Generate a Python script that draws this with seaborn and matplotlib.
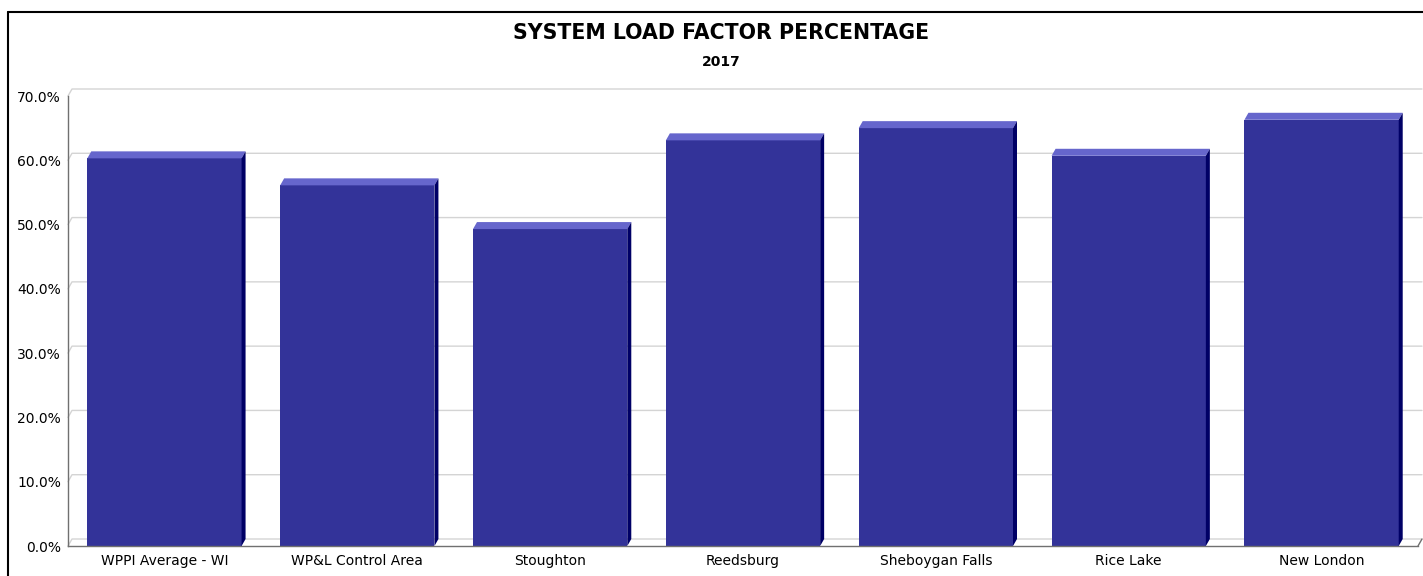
import matplotlib
matplotlib.use("Agg")
import matplotlib.pyplot as plt
import matplotlib.transforms as mtransforms
from matplotlib.lines import Line2D
from matplotlib.patches import Polygon
import pandas as pd
import seaborn as sns

# values
utilities = ["WPPI Average - WI", "WP&L Control Area", "Stoughton", "Reedsburg",
             "Sheboygan Falls", "Rice Lake", "New London"]
load_factor = [60.3, 56.1, 49.3, 63.1, 65.0, 60.7, 66.3]
y_ticks = [0, 10, 20, 30, 40, 50, 60, 70]
y_tick_labels = [f"{v:.1f}%" for v in y_ticks]

front_color = "#333399"
top_color = "#6666cc"
side_color = "#000066"
depth_x, depth_y = 4, 7  # pixel depth of the fake 3d look

sns.set_style("white")
plt.rcParams["font.family"] = ["DejaVu Sans"]

W, H = 1423, 576
fig = plt.figure(figsize=(W / 100, H / 100), dpi=100)
ax = fig.add_axes([68 / W, 30 / H, 1350 / W, 450 / H])

df = pd.DataFrame({"utility": utilities, "load_factor": load_factor})
sns.barplot(data=df, x="utility", y="load_factor", color=front_color, saturation=1,
            width=0.8, ax=ax, zorder=3, edgecolor="none", linewidth=0)

ax.set_xlim(-0.5, len(utilities) - 0.5)
ax.set_ylim(0, 70)
ax.set_yticks(y_ticks)
ax.set_yticklabels(y_tick_labels)
ax.set_xlabel("")
ax.set_ylabel("")
ax.tick_params(axis="both", length=0, labelsize=10, colors="black")
ax.tick_params(axis="y", pad=5)
ax.tick_params(axis="x", pad=6)
for side in ["top", "right"]:
    ax.spines[side].set_visible(False)
for side in ["left", "bottom"]:
    ax.spines[side].set_color("#707070")
    ax.spines[side].set_linewidth(1.0)
    ax.spines[side].set_zorder(4)

ident = mtransforms.IdentityTransform()
to_px = ax.transData.transform
x0, x1 = ax.get_xlim()

# back-wall gridlines with the small perspective step at the axis
for v in y_ticks:
    fx, fy = to_px((x0, v))
    ex, _ = to_px((x1, v))
    ax.add_line(Line2D([fx, fx + depth_x, ex + depth_x], [fy, fy + depth_y, fy + depth_y],
                       transform=ident, color="#d4d4d4", lw=1.0, zorder=1, clip_on=False))
# right end of the floor
ex, ey = to_px((x1, 0))
ax.add_line(Line2D([ex, ex + depth_x], [ey, ey + depth_y], transform=ident,
                   color="#707070", lw=1.0, zorder=4, clip_on=False))

# top and side faces of each bar
for p in ax.patches:
    bx, by = p.get_x(), p.get_y()
    bw, bh = p.get_width(), p.get_height()
    lx, ty = to_px((bx, by + bh))
    rx, base = to_px((bx + bw, by))
    top = Polygon([[lx, ty], [rx, ty], [rx + depth_x, ty + depth_y], [lx + depth_x, ty + depth_y]],
                  closed=True, transform=ident, facecolor=top_color, edgecolor="none",
                  zorder=3, clip_on=False)
    side = Polygon([[rx, base], [rx + depth_x, base + depth_y], [rx + depth_x, ty + depth_y], [rx, ty]],
                   closed=True, transform=ident, facecolor=side_color, edgecolor="none",
                   zorder=3, clip_on=False)
    ax.add_patch(top)
    ax.add_patch(side)

fig.text(0.507, 1 - 33 / H, "SYSTEM LOAD FACTOR PERCENTAGE", ha="center", va="center",
         fontsize=14.8, fontweight="bold", color="black")
fig.text(0.507, 1 - 62 / H, "2017", ha="center", va="center", fontsize=10,
         fontweight="bold", color="black")

# outer frame (left and top edges)
fig.add_artist(Line2D([8 / W, 8 / W], [0, 1 - 12 / H], transform=fig.transFigure,
                      color="black", lw=1.5))
fig.add_artist(Line2D([8 / W, 1], [1 - 12 / H, 1 - 12 / H], transform=fig.transFigure,
                      color="black", lw=1.5))

fig.savefig("out.png", dpi=100)
